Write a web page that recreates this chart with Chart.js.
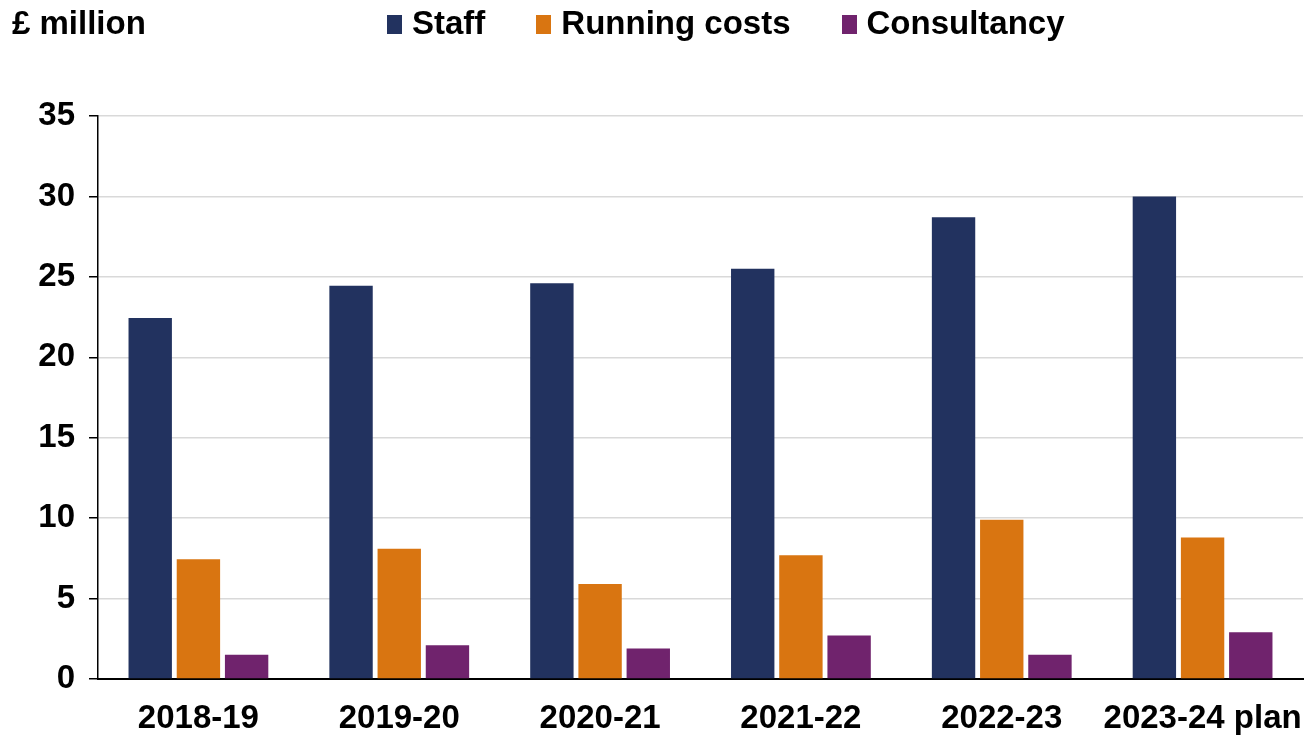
<!DOCTYPE html>
<html>
<head>
<meta charset="utf-8">
<script src="https://cdn.jsdelivr.net/npm/chart.js@4"></script>
<style>
  body { margin: 0; background: #fff; font-family: "Liberation Sans", Arial, sans-serif; }
  #wrap { position: relative; width: 1314px; height: 738px; }
  #unit { position: absolute; left: 12px; top: 4px; font-size: 33px; font-weight: bold; color: #000; }
  #legend { position: absolute; left: 387px; top: 4px; display: flex; font-size: 33px; font-weight: bold; color: #000; }
  #legend .item { display: flex; align-items: center; margin-right: 51px; }
  #legend .box { width: 15px; height: 19px; margin-right: 10px; margin-top: 2px; }
</style>
</head>
<body>
<div id="wrap">
  <canvas id="costChart"></canvas>
  <div id="unit">£ million</div>
  <div id="legend"></div>
</div>
<script>
// Chart data
const years = ["2018-19", "2019-20", "2020-21", "2021-22", "2022-23", "2023-24 plan"];
const staff = [22.45, 24.45, 24.6, 25.5, 28.7, 30.0];
const runningCosts = [7.45, 8.1, 5.9, 7.7, 9.9, 8.8];
const consultancy = [1.5, 2.1, 1.9, 2.7, 1.5, 2.9];
const yTicks = [0, 5, 10, 15, 20, 25, 30, 35];

const seriesNames = ["Staff", "Running costs", "Consultancy"];
const seriesColors = ["#22325f", "#d97511", "#70236d"];

const tickFont = { family: "'Liberation Sans', Arial, sans-serif", size: 33, weight: "bold" };

// Build a simple legend matching the original layout
const legendEl = document.getElementById("legend");
seriesNames.forEach((name, i) => {
    const item = document.createElement("div");
    item.className = "item";
    item.innerHTML = `<span class="box" style="background:${seriesColors[i]}"></span>${name}`;
    legendEl.appendChild(item);
});

const ctx = document.getElementById("costChart").getContext("2d");

const costChart = new Chart(ctx, {
    type: "bar",
    data: {
        labels: years,
        datasets: [staff, runningCosts, consultancy].map((values, i) => ({
            label: seriesNames[i],
            data: values,
            backgroundColor: seriesColors[i],
            borderWidth: 0,
            barPercentage: 0.9,
            categoryPercentage: 0.72,
        })),
    },
    options: {
        responsive: true,
        maintainAspectRatio: false,
        animation: false,
        layout: {
            padding: { top: 116, left: 25, right: 11, bottom: 0 },
        },
        plugins: {
            legend: { display: false },
            tooltip: { enabled: false },
        },
        scales: {
            x: {
                grid: { display: false, drawTicks: false },
                border: { color: "#000", width: 2 },
                ticks: { color: "#000", font: tickFont, padding: 20, maxRotation: 0, autoSkip: false },
                afterFit: (axis) => {
                    axis.height = 59; // keep the baseline at the same place as the original
                    axis.paddingRight = 0; // last label may run to the edge
                    axis.paddingLeft = 0;
                },
            },
            y: {
                min: 0,
                max: 35,
                afterBuildTicks: (axis) => {
                    axis.ticks = yTicks.map((v) => ({ value: v }));
                },
                grid: { color: "#d9d9d9", lineWidth: 1.5, tickColor: "#000", tickLength: 9 },
                border: { color: "#000", width: 1.5 },
                ticks: { color: "#000", font: tickFont, padding: 14 },
                afterFit: (axis) => {
                    axis.width = 73;
                },
            },
        },
    },
});
</script>
</body>
</html>
